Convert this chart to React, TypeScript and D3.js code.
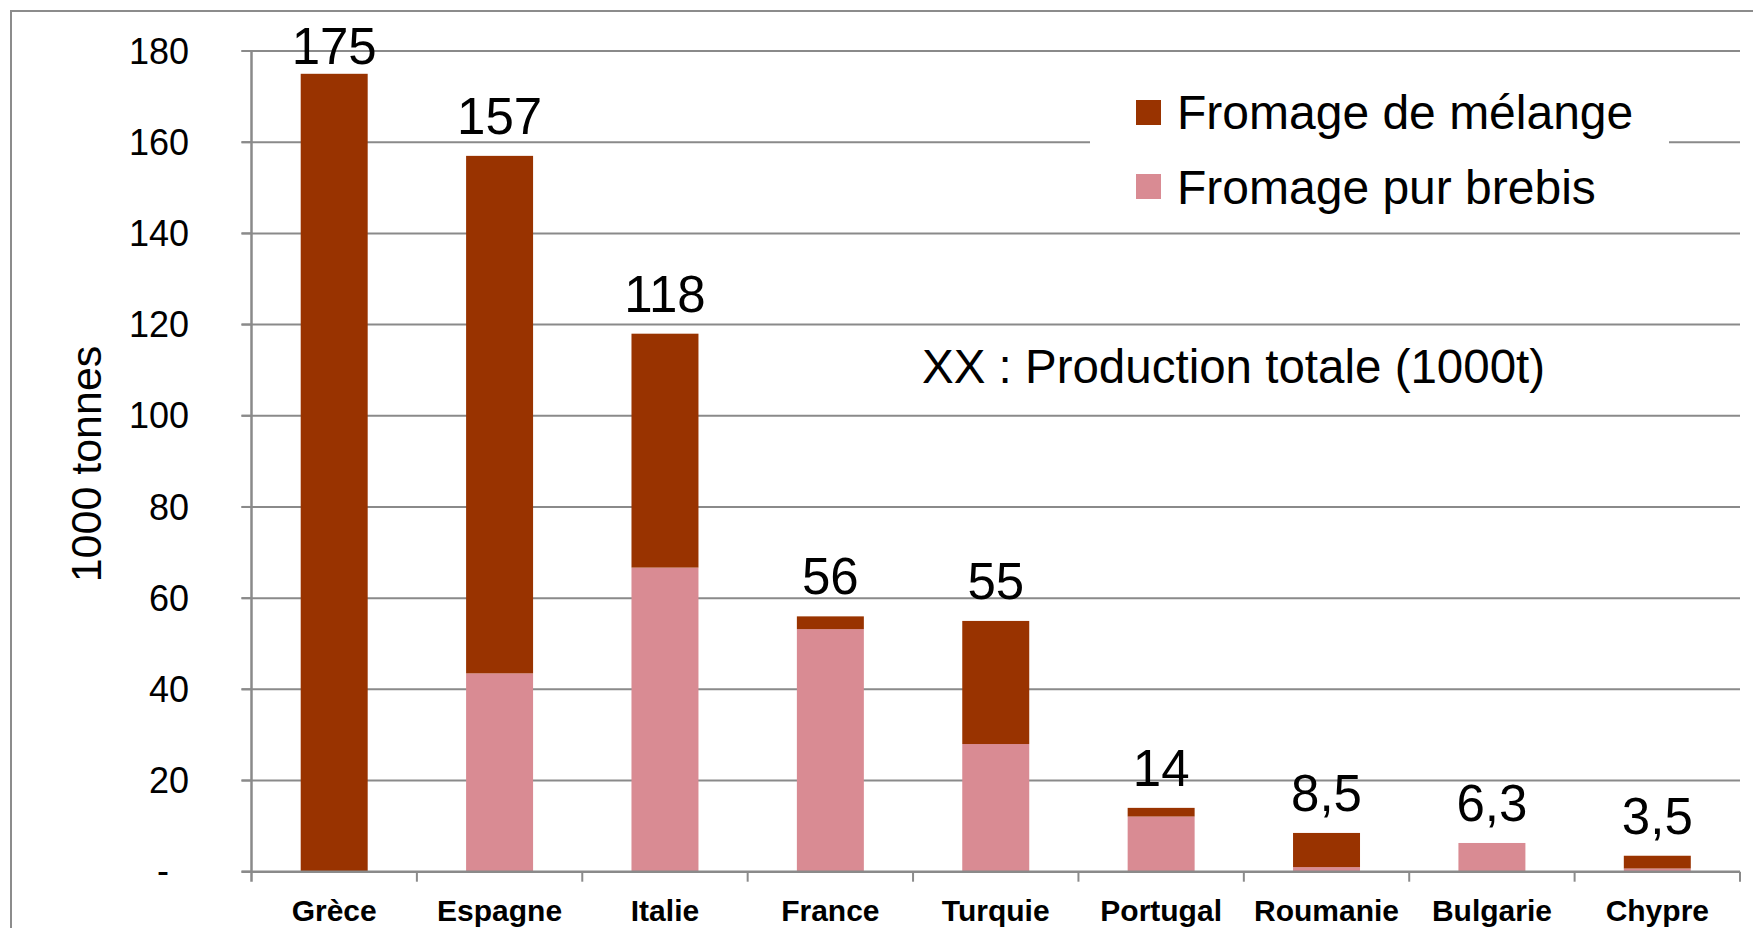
import React from "react";
import * as d3 from "d3";

const categories = ["Grèce", "Espagne", "Italie", "France", "Turquie", "Portugal", "Roumanie", "Bulgarie", "Chypre"];
const pureBrebis = [0, 43.5, 66.7, 53.2, 28, 12.1, 1.0, 6.3, 0.7];
const melange = [175, 113.5, 51.3, 2.8, 27, 1.9, 7.5, 0, 2.8];
const totalLabels = ["175", "157", "118", "56", "55", "14", "8,5", "6,3", "3,5"];
const yTicks = [0, 20, 40, 60, 80, 100, 120, 140, 160, 180];
const seriesNames = ["Fromage de mélange", "Fromage pur brebis"];
const yTitle = "1000 tonnes";
const note = "XX : Production totale (1000t)";

const W = 1753;
const H = 928;
const FONT = "'Liberation Sans', Arial, Helvetica, sans-serif";
const DARK = "#993300";
const PINK = "#D98B93";
const GRID = "#8a8a8a";

export default function App() {
  const x = d3.scaleBand<string>().domain(categories).range([251.5, 1740]).paddingInner(0).paddingOuter(0);
  const y = d3.scaleLinear().domain([0, 180]).range([871.7, 51]);
  const bw = x.bandwidth() * 0.405;

  const rows = categories.map((c, i) => ({ c, pure: pureBrebis[i], mel: melange[i], label: totalLabels[i] }));
  const stack = d3.stack<any>().keys(["pure", "mel"])(rows as any);

  const legendGapX0 = 1090;
  const legendGapX1 = 1669;

  return (
    <svg width={W} height={H} style={{ position: "absolute", left: 0, top: 0, display: "block", background: "#fff" }} fontFamily={FONT}>
      <rect x={0} y={0} width={W} height={H} fill="#fff" />
      {/* outer border */}
      <rect x={11} y={11} width={W + 20} height={H + 20} fill="none" stroke="#8c8c8c" strokeWidth={2} />

      {/* gridlines + y ticks */}
      {yTicks.map((t) => (
        <g key={t}>
          {t > 0 && (
            <line x1={241.5} x2={1740} y1={y(t)} y2={y(t)} stroke={GRID} strokeWidth={2} />
          )}
          <line x1={241.5} x2={251.5} y1={y(t)} y2={y(t)} stroke={GRID} strokeWidth={2} />
          {t === 0 ? (
            <text x={163} y={y(t)} dy="0.32em" textAnchor="middle" fontSize={36} fill="#000">-</text>
          ) : (
            <text x={189} y={y(t)} dy="0.35em" textAnchor="end" fontSize={36} fill="#000">{t}</text>
          )}
        </g>
      ))}

      {/* legend background hides grid */}
      <rect x={legendGapX0} y={70} width={legendGapX1 - legendGapX0} height={150} fill="#fff" />

      {/* bars */}
      {stack.map((s, si) => (
        <g key={si} fill={si === 0 ? PINK : DARK}>
          {s.map((d: any, i: number) =>
            d[1] - d[0] > 0 ? (
              <rect
                key={i}
                x={(x(categories[i]) as number) + (x.bandwidth() - bw) / 2}
                y={y(d[1])}
                width={bw}
                height={y(d[0]) - y(d[1])}
              />
            ) : null
          )}
        </g>
      ))}

      {/* axes */}
      <line x1={251.5} x2={251.5} y1={y(180)} y2={881.7} stroke={GRID} strokeWidth={2.5} />
      <line x1={241.5} x2={1740} y1={y(0)} y2={y(0)} stroke={GRID} strokeWidth={2.5} />
      {categories.map((c, i) => (
        <line key={"t" + i} x1={(x(c) as number) + x.bandwidth()} x2={(x(c) as number) + x.bandwidth()} y1={y(0)} y2={881.7} stroke={GRID} strokeWidth={2} />
      ))}
      {categories.map((c) => (
        <text key={"c" + c} x={(x(c) as number) + x.bandwidth() / 2} y={921} textAnchor="middle" fontSize={30} fontWeight="bold" fill="#000">{c}</text>
      ))}

      {/* total labels */}
      {rows.map((r, i) => (
        <text
          key={"l" + i}
          x={(x(r.c) as number) + x.bandwidth() / 2}
          y={Math.max(y(r.pure + r.mel) - 22, 64)}
          textAnchor="middle"
          fontSize={51}
          fill="#000"
        >
          {r.label}
        </text>
      ))}

      {/* y title */}
      <text transform={`translate(101,464) rotate(-90)`} textAnchor="middle" fontSize={43} fill="#000">{yTitle}</text>

      {/* legend */}
      {seriesNames.map((n, i) => (
        <g key={n}>
          <rect x={1136} y={100 + i * 74} width={25} height={25} fill={i === 0 ? DARK : PINK} />
          <text x={1177} y={129 + i * 75} fontSize={48} fill="#000">{n}</text>
        </g>
      ))}

      {/* note */}
      <text x={922} y={383} fontSize={47.5} fill="#000">{note}</text>
    </svg>
  );
}
